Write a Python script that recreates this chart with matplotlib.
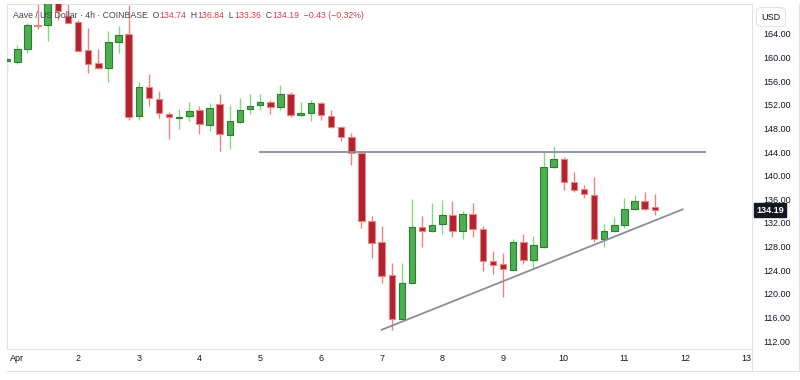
import matplotlib
matplotlib.use("Agg")
import matplotlib.pyplot as plt
import matplotlib.dates as mdates
import numpy as np
import pandas as pd

plt.rcParams["font.family"] = ["Liberation Sans", "DejaVu Sans"]

# 4h candles, AAVE/USD, first bar = Mar 31 20:00
START = "2025-03-31 20:00"
OPEN = [159.5, 159.3, 161.5, 165.6, 165.5, 170.2, 167.1, 166.0, 161.3, 159.1,
        158.3, 162.6, 164.0, 150.1, 155.0, 153.0, 150.5, 149.7, 150.1, 151.2,
        148.6, 152.1, 146.9, 149.1, 151.3, 151.9, 152.5, 151.6, 153.8, 150.2,
        150.7, 152.3, 150.1, 148.2, 146.6, 143.9, 132.4, 128.7, 123.1, 115.7,
        121.8, 131.3, 130.6, 131.8, 133.3, 130.6, 133.5, 131.0, 125.5, 125.0,
        124.1, 128.8, 125.8, 128.0, 141.4, 142.9, 139.0, 137.7, 136.7, 129.2,
        130.6, 131.6, 134.3, 135.8, 134.74]
HIGH = [160.1, 162.1, 165.8, 169.5, 171.5, 171.5, 169.0, 166.4, 165.0, 161.4,
        164.5, 165.4, 168.9, 155.8, 157.2, 154.3, 150.8, 151.3, 152.4, 151.8,
        152.3, 153.8, 152.0, 153.2, 153.8, 153.8, 152.9, 155.4, 154.2, 152.5,
        152.8, 152.4, 151.1, 148.4, 147.2, 144.0, 133.1, 131.5, 125.2, 125.2,
        136.1, 133.2, 135.4, 135.9, 135.8, 134.1, 135.3, 131.4, 127.2, 126.9,
        129.3, 130.1, 129.8, 144.0, 145.0, 143.1, 140.7, 138.5, 139.7, 131.8,
        133.0, 136.2, 136.7, 137.2, 136.84]
LOW = [157.9, 159.0, 160.8, 164.9, 162.8, 166.3, 165.8, 161.1, 157.4, 158.1,
       155.8, 160.8, 149.4, 149.4, 151.8, 149.7, 146.2, 147.9, 149.3, 147.1,
       147.5, 144.2, 144.6, 148.9, 150.4, 151.2, 150.4, 151.1, 149.9, 150.1,
       149.3, 149.4, 148.1, 145.9, 141.8, 131.2, 126.1, 121.8, 113.9, 115.5,
       121.7, 128.0, 130.5, 130.2, 129.7, 129.2, 129.7, 123.9, 123.3, 119.5,
       124.0, 125.0, 124.2, 127.8, 141.3, 137.5, 137.2, 136.3, 128.8, 128.0,
       130.5, 131.2, 134.2, 134.2, 133.36]
CLOSE = [159.7, 161.4, 165.5, 165.4, 170.2, 167.9, 165.9, 161.2, 159.0, 158.2,
         162.7, 163.9, 150.0, 155.0, 153.2, 150.6, 149.9, 150.0, 151.0, 148.7,
         151.5, 147.0, 149.3, 151.2, 151.8, 152.5, 151.6, 153.8, 150.2, 150.7,
         152.3, 150.2, 148.2, 146.5, 143.8, 132.3, 128.6, 123.0, 115.8, 121.9,
         131.3, 130.6, 131.6, 133.3, 130.6, 133.5, 131.0, 125.5, 124.9, 124.2,
         128.8, 125.8, 128.2, 141.4, 142.9, 138.9, 137.6, 136.9, 129.2, 130.7,
         131.6, 134.4, 135.8, 134.3, 134.19]

# drawn lines: resistance level and rising support
LEVEL_PRICE = 144.0
LEVEL_FROM, LEVEL_TO = "2025-04-05 00:00", "2025-04-12 08:00"
TREND_TIMES = ["2025-04-07 00:00", "2025-04-11 23:00"]
TREND_PRICES = [113.9, 134.3]

DAY_LABELS = ["Apr"] + [str(d) for d in range(2, 14)]
PRICE_TICKS = list(range(112, 165, 4))
HEADER = [("Aave / US Dollar · 4h · COINBASE  O", "#434651"), ("134.74", "#d4414a"),
          ("  H", "#434651"), ("136.84", "#d4414a"), ("  L", "#434651"), ("133.36", "#d4414a"),
          ("  C", "#434651"), ("134.19", "#d4414a"), ("  −0.43 (−0.32%)", "#d4414a")]

UP_FACE, UP_EDGE, UP_WICK = "#4caf50", "#2e7d32", "#7fdc7f"
DN_FACE, DN_EDGE, DN_WICK = "#b2232f", "#e98585", "#f28080"
BORDER = "#e0e3eb"
TEXT = "#131722"

W, H = 800, 380
fig = plt.figure(figsize=(W / 100, H / 100), dpi=100)
ax = fig.add_axes([7 / W, 31 / H, 745 / W, 345 / H])

times = pd.date_range(START, periods=len(OPEN), freq="4h")
x = mdates.date2num(times.to_pydatetime())
o, h, l, c = map(np.array, (OPEN, HIGH, LOW, CLOSE))
up = c >= o
bar_w = 0.64 * (4 / 24)

ax.vlines(x[up], l[up], h[up], color=UP_WICK, lw=1.0, zorder=2)
ax.vlines(x[~up], l[~up], h[~up], color=DN_WICK, lw=1.0, zorder=2)
bottom = np.minimum(o, c)
height = np.maximum(np.abs(c - o), 0.2)
ax.bar(x[up], height[up], bar_w, bottom=bottom[up], color=UP_FACE,
       edgecolor=UP_EDGE, linewidth=0.8, zorder=3)
ax.bar(x[~up], height[~up], bar_w, bottom=bottom[~up], color=DN_FACE,
       edgecolor=DN_EDGE, linewidth=0.8, zorder=3)

lx = mdates.date2num(pd.to_datetime([LEVEL_FROM, LEVEL_TO]).to_pydatetime())
ax.plot(lx, [LEVEL_PRICE, LEVEL_PRICE], color="#8a8e99", lw=1.3, zorder=4)
tx = mdates.date2num(pd.to_datetime(TREND_TIMES).to_pydatetime())
ax.plot(tx, TREND_PRICES, color="#8a8e99", lw=1.3, zorder=4)

day0 = mdates.date2num(pd.Timestamp("2025-04-01").to_pydatetime())
ax.set_xlim(day0 - 0.17, day0 + 12.10)
ax.set_ylim(110.65, 169.08)

ax.set_xticks(day0 + np.arange(len(DAY_LABELS)))
ax.set_xticklabels(DAY_LABELS)
ax.tick_params(axis="x", length=0, pad=3.5, labelsize=6.5, colors=TEXT)
ax.yaxis.tick_right()
ax.set_yticks(PRICE_TICKS)
ax.set_yticklabels(["%.2f" % p for p in PRICE_TICKS])
ax.tick_params(axis="y", length=0, pad=8, labelsize=6.5, colors=TEXT)
for s in ax.spines.values():
    s.set_color(BORDER)
    s.set_linewidth(0.8)

# current price tag
ax.text(1 + 4 / 745, CLOSE[-1], "%.2f" % CLOSE[-1], transform=ax.get_yaxis_transform(),
        ha="left", va="center", fontsize=6.5, fontweight="bold", color="white",
        bbox=dict(boxstyle="square,pad=0.25", fc="#131722", ec="#131722"), clip_on=False)

# frame of time scale and price scale
fig.add_artist(plt.Line2D([7 / W, 1], [1 - 371 / H] * 2, color=BORDER, lw=0.8))
fig.add_artist(plt.Line2D([752 / W] * 2, [1 - 371 / H, 1 - 349 / H], color=BORDER, lw=0.8))
fig.add_artist(plt.Line2D([799 / W] * 2, [1 - 371 / H, 1 - 4 / H], color=BORDER, lw=0.8))
fig.text(771 / W, 1 - 17 / H, "USD", ha="center", va="center", fontsize=6.5, color=TEXT,
         bbox=dict(boxstyle="round,pad=0.55", fc="white", ec=BORDER, lw=0.8))

# legend line on top of the chart
renderer = fig.canvas.get_renderer()
px = 13
for txt, col in HEADER:
    t = fig.text(px / W, 1 - 16 / H, txt, ha="left", va="center", fontsize=6.3,
                 color=col, zorder=10)
    px = t.get_window_extent(renderer).x1

fig.savefig("out.png", dpi=100)
